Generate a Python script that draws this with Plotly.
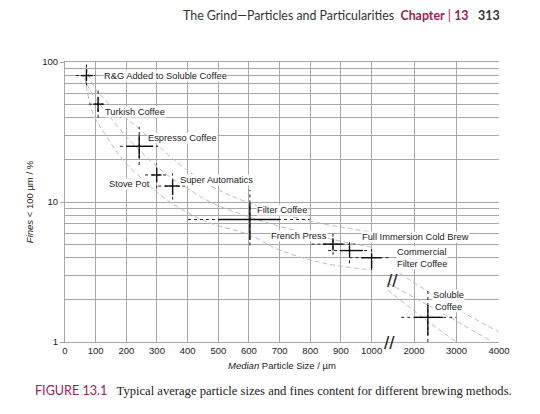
import numpy as np
import plotly.graph_objects as go

# brewing methods: median particle size (um) and fines content (%)
methods = ["R&G Added to Soluble Coffee", "Turkish Coffee", "Espresso Coffee", "Stove Pot",
           "Super Automatics", "Filter Coffee", "French Press", "Full Immersion Cold Brew",
           "Commercial<br>Filter Coffee", "Soluble<br>Coffee"]
size_median = [70, 108, 242, 299, 351, 603, 874, 928, 1000, 2325]
fines = [80, 50, 25, 15.6, 13, 7.5, 5.0, 4.5, 4.0, 1.5]
# typical range (solid) and full range (dotted)
size_lo = [51, 92, 201, 282, 326, 500, 841, 896, 966, 2012]
size_hi = [91, 125, 288, 315, 375, 700, 906, 972, 1228, 2678]
size_min = [36, 78, 179, 261, 304, 401, 804, 858, 928, 1699]
size_max = [98, 137, 304, 336, 396, 798, 945, 993, 1464, 2993]
fines_lo = [73, 44, 20.6, 13.9, 11.2, 5.35, 4.5, 4.05, 3.36, 1.12]
fines_hi = [89, 56, 30, 17.4, 14.3, 9.8, 5.5, 4.9, 4.3, 1.84]
fines_min = [68, 40, 18.4, 12.5, 10.4, 4.9, 4.2, 3.65, 3.27, 1.0]
fines_max = [100, 63, 34.5, 18.9, 16, 12.2, 6.0, 5.35, 4.67, 2.35]

# label positions (um, %)
label_x = [123, 127, 266, 279, 371, 622, 858, 966, 1565, 2812]
label_y = [80, 43.7, 28.5, 13.4, 14.4, 8.73, 5.74, 5.65, 3.98, 1.96]
label_anchor = ["left", "left", "left", "right", "left", "left", "right", "left", "left", "center"]

# dashed guide curves, left part (<=1000 um) and right part (>1000 um)
upper_x = [68, 98, 156, 235, 309, 384, 482, 603, 788, 1000]
upper_y = [93, 65, 47.6, 34.3, 24.6, 17.8, 12.8, 9.8, 7.4, 6.1]
middle_x = [65, 81, 137, 202, 277, 342, 407, 482, 603, 700, 840, 1000]
middle_y = [79, 63, 43, 29, 19.9, 15.1, 12.2, 9.8, 7.8, 6.7, 5.6, 4.76]
lower_x = [65, 91, 137, 189, 267, 319, 384, 472, 603, 700, 840, 1000]
lower_y = [76.9, 43.2, 29.1, 19.9, 13.7, 10.9, 8.77, 7.09, 5.81, 4.54, 3.67, 3.27]
upper_x2 = [1660, 2700, 4000]
upper_y2 = [3.1, 1.95, 1.18]
middle_x2 = [1376, 2600, 3850]
middle_y2 = [2.64, 1.65, 1.0]
lower_x2 = [1376, 2200, 3000]
lower_y2 = [2.35, 1.5, 1.0]

x_ticks = [0, 100, 200, 300, 400, 500, 600, 700, 800, 900, 1000, 2000, 3000, 4000]

RIGHT_SQUEEZE = 7.22  # the 1000-4000 part of the axis is compressed


def xpos(v):
    v = np.asarray(v, dtype=float)
    return np.where(v <= 1000, v, 1000 + (v - 1000) / RIGHT_SQUEEZE)


def cross_lines(lo_x, hi_x, lo_y, hi_y):
    xs, ys = [], []
    for i in range(len(size_median)):
        xs += [float(xpos(lo_x[i])), float(xpos(hi_x[i])), None,
               float(xpos(size_median[i])), float(xpos(size_median[i])), None]
        ys += [fines[i], fines[i], None, lo_y[i], hi_y[i], None]
    return xs, ys


fig = go.Figure()

curve_style = dict(color="#bcbcbc", width=1, dash="5px,3px", shape="spline")
for cx, cy in [(upper_x, upper_y), (middle_x, middle_y), (lower_x, lower_y),
               (upper_x2, upper_y2), (middle_x2, middle_y2), (lower_x2, lower_y2)]:
    fig.add_trace(go.Scatter(x=xpos(cx), y=cy, mode="lines", line=curve_style,
                             showlegend=False, hoverinfo="skip"))

dx, dy = cross_lines(size_min, size_max, fines_min, fines_max)
fig.add_trace(go.Scatter(x=dx, y=dy, mode="lines", line=dict(color="#222", width=1, dash="dot"),
                         showlegend=False, hoverinfo="skip"))
sx, sy = cross_lines(size_lo, size_hi, fines_lo, fines_hi)
fig.add_trace(go.Scatter(x=sx, y=sy, mode="lines", line=dict(color="#111", width=1.4),
                         showlegend=False, hoverinfo="skip"))

for name, lx, ly, anc in zip(methods, label_x, label_y, label_anchor):
    fig.add_annotation(x=float(xpos(lx)), y=np.log10(ly), text=name, showarrow=False,
                       xanchor=anc, yanchor="middle", align="center" if anc == "center" else "left",
                       bgcolor="white", borderpad=0, font=dict(size=9.3, color="#222"))

# axis break marks
for bx, by in [(1420, 1.0), (1494, 2.73)]:
    fig.add_annotation(x=float(xpos(bx)), y=np.log10(by), text="//", showarrow=False,
                       font=dict(size=19, color="#222", family="Liberation Sans"))

# page header and caption
fig.add_annotation(xref="paper", yref="paper", x=1.006, y=1.165, xanchor="right", yanchor="middle",
                   showarrow=False, font=dict(family="Lato", size=12.4, color="#333"),
                   text="The Grind\u2014Particles and Particularities  "
                        "<span style='color:#9b2150'><b>Chapter</b> | <b>13</b></span>   <b>313</b>")
fig.add_annotation(xref="paper", yref="paper", x=-0.074, y=-0.174, xanchor="left", yanchor="middle",
                   showarrow=False, font=dict(family="Liberation Serif", size=12.6, color="#222"),
                   text="<span style='font-family:Lato;color:#9b2150'>FIGURE 13.1</span>   "
                        "Typical average particle sizes and fines content for different brewing methods.")

grid = "#a8a8a8"
# the page adds an 8px body margin, so the figure is 8px smaller and shifted
fig.update_layout(
    width=532, height=406,
    margin=dict(l=57, r=40.5, t=54, b=72),
    paper_bgcolor="white", plot_bgcolor="white",
    font=dict(family="Liberation Sans, Arial", size=9.5, color="#222"),
    xaxis=dict(range=[0, float(xpos(4000))], tickvals=xpos(x_ticks).tolist(),
               ticktext=[str(t) for t in x_ticks], showgrid=True, gridcolor=grid, gridwidth=1,
               zeroline=False, showline=True, linecolor=grid, mirror=True, ticks="",
               tickfont=dict(size=9.5),
               title=dict(text="<i>Median</i> Particle Size / \u00b5m", font=dict(size=9.5), standoff=6)),
    yaxis=dict(type="log", range=[0, 2], tickvals=[1, 10, 100], showgrid=True, gridcolor=grid,
               zeroline=False, showline=True, linecolor=grid, ticks="outside", ticklen=4,
               tickcolor=grid, tickfont=dict(size=9.5),
               minor=dict(tickvals=[2, 3, 4, 5, 6, 7, 8, 9, 20, 30, 40, 50, 60, 70, 80, 90],
                          showgrid=True, gridcolor=grid, gridwidth=1, ticks=""),
               title=dict(text="<i>Fines</i> &lt; 100 \u00b5m / %", font=dict(size=9.5), standoff=6)),
    yaxis2=dict(type="log", range=[0, 2], overlaying="y", side="right", tickvals=[1, 10, 100],
                showgrid=False, zeroline=False, ticks="outside", ticklen=4, tickcolor=grid,
                showline=True, linecolor=grid, tickfont=dict(size=9.5)),
)

fig.write_html("out.html")
